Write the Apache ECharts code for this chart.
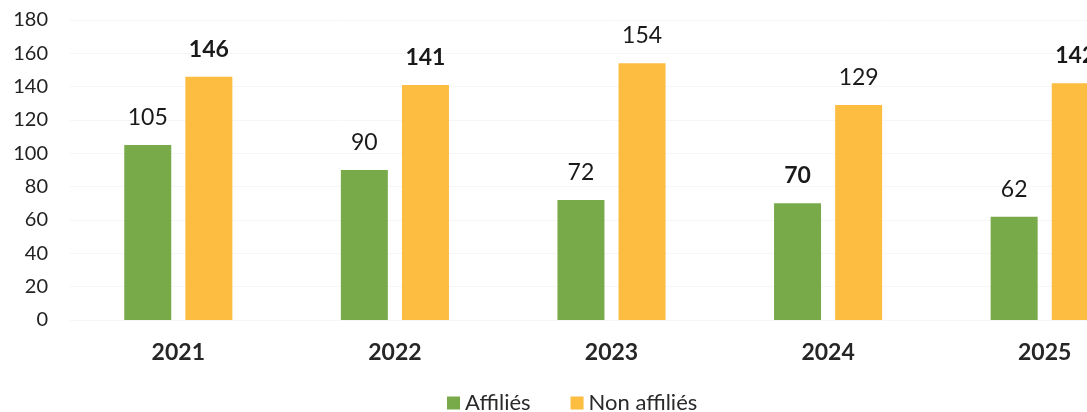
<!DOCTYPE html>
<html><head><meta charset="utf-8">
<script src="https://cdn.jsdelivr.net/npm/echarts@6/dist/echarts.min.js"></script>
<style>html,body{margin:0;padding:0;background:#fff;overflow:hidden;width:1087px;height:412px}#c{width:1153px;height:412px}</style>
</head><body><div id="c"></div>
<script>
const categories = ['2021','2022','2023','2024','2025'];
const affilies = [105, 90, 72, 70, 62];
const nonAffilies = [146, 141, 154, 129, 142];
const yTicks = [0, 20, 40, 60, 80, 100, 120, 140, 160, 180];
const boldAff = [false, false, false, true, false];
const boldNon = [true, true, false, false, true];

const font = 'Lato, "Open Sans", sans-serif';
function items(vals, bold) {
  return vals.map((v, i) => ({ value: v, label: { fontWeight: bold[i] ? 'bold' : 'normal' } }));
}
const chart = echarts.init(document.getElementById('c'), null, { renderer: 'canvas' });
chart.setOption({
  animation: false,
  textStyle: { fontFamily: font },
  grid: { left: 70, right: 0, top: 20, bottom: 92, containLabel: false },
  legend: {
    top: 387, left: 442, itemWidth: 13, itemHeight: 13, itemGap: 40, icon: 'rect',
    textStyle: { fontSize: 22, color: '#2a2a2a', fontFamily: font },
    data: ['Affiliés', 'Non affiliés']
  },
  xAxis: {
    type: 'category', data: categories,
    axisLine: { show: false }, axisTick: { show: false },
    axisLabel: { fontSize: 23, fontWeight: 'bold', color: '#262626', margin: 21, fontFamily: font }
  },
  yAxis: {
    type: 'value', min: yTicks[0], max: yTicks[yTicks.length - 1], interval: 20,
    axisLine: { show: false }, axisTick: { show: false },
    splitLine: { lineStyle: { color: '#f6f6f6' } },
    axisLabel: { fontSize: 20, color: '#222', margin: 22, fontFamily: font }
  },
  series: [
    {
      name: 'Affiliés', type: 'bar', data: items(affilies, boldAff),
      barWidth: '21.7%', barGap: '30%',
      itemStyle: { color: '#79aa4a' },
      label: { show: true, position: 'top', distance: 16, fontSize: 23, color: '#1a1a1a', fontFamily: font }
    },
    {
      name: 'Non affiliés', type: 'bar', data: items(nonAffilies, boldNon),
      barWidth: '21.7%',
      itemStyle: { color: '#fcbd40' },
      label: { show: true, position: 'top', distance: 16, fontSize: 23, color: '#1a1a1a', fontFamily: font }
    }
  ]
});
</script></body></html>
